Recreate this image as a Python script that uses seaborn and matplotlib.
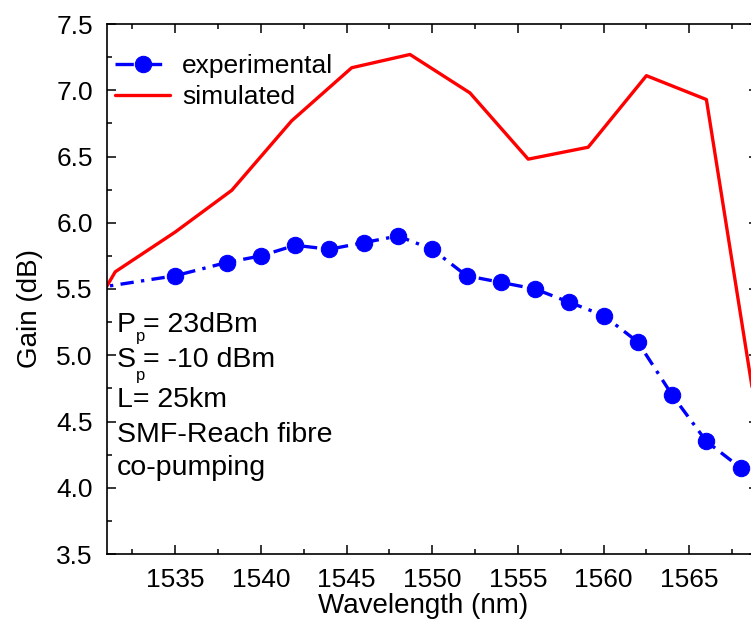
import seaborn as sns
import numpy as np
import matplotlib.pyplot as plt
from matplotlib.ticker import MultipleLocator

# experimental gain (dB) vs wavelength (nm)
exp_wl = [1530, 1535, 1538, 1540, 1542, 1544, 1546, 1548, 1550, 1552, 1554,
          1556, 1558, 1560, 1562, 1564, 1566, 1568]
exp_gain = [5.50, 5.60, 5.70, 5.75, 5.83, 5.80, 5.85, 5.90, 5.80, 5.60, 5.55,
            5.50, 5.40, 5.30, 5.10, 4.70, 4.35, 4.15]

# simulated gain
sim_wl = [1528.1, 1531.5, 1535.0, 1538.3, 1541.8, 1545.3, 1548.7, 1552.2,
          1555.6, 1559.1, 1562.5, 1566.0, 1569.4]
sim_gain = [4.88, 5.63, 5.93, 6.245, 6.77, 7.17, 7.27, 6.98, 6.48, 6.57,
            7.11, 6.93, 4.16]

# conditions box: main symbol, subscript, rest of the line
notes = [('P', 'p', '= 23dBm'), ('S', 'p', '= -10 dBm'), ('L= 25km', '', ''),
         ('SMF-Reach fibre', '', ''), ('co-pumping', '', '')]
note_y = [0.4194, 0.3534, 0.2774, 0.2119, 0.149]
sub_y = [0.401, 0.328]

sns.set_style('ticks')
plt.rcParams['font.family'] = ['Liberation Sans', 'DejaVu Sans']
plt.rcParams['text.color'] = 'black'
plt.rcParams['axes.labelcolor'] = 'black'

fig = plt.figure(figsize=(7.51, 6.27), dpi=100)
ax = fig.add_axes([106.7 / 751, 73 / 627, 651.1 / 751, 530 / 627])

sns.lineplot(x=exp_wl, y=exp_gain, ax=ax, color='#0000ff', lw=2.4,
             linestyle=(0, (4, 2.2, 1, 2.2)), marker='o', markersize=11.8,
             markeredgecolor='#0000ff', markerfacecolor='#0000ff',
             label='experimental', sort=False)
sns.lineplot(x=sim_wl, y=sim_gain, ax=ax, color='#ff0000', lw=2.4,
             label='simulated', sort=False)

ax.set_xlim(1531, 1569)
ax.set_ylim(3.5, 7.5)
ax.xaxis.set_major_locator(MultipleLocator(5))
ax.xaxis.set_minor_locator(MultipleLocator(2.5))
ax.yaxis.set_major_locator(MultipleLocator(0.5))
ax.yaxis.set_minor_locator(MultipleLocator(0.25))
ax.set_xticks([1535, 1540, 1545, 1550, 1555, 1560, 1565])
ax.yaxis.set_major_formatter(plt.FormatStrFormatter('%.1f'))
ax.tick_params(which='both', direction='in', top=True, right=True,
               width=1.1, color='black', labelsize=19, labelcolor='black')
ax.tick_params(which='major', length=6.5)
ax.tick_params(which='minor', length=3.6)
ax.tick_params(axis='y', pad=10)
ax.tick_params(axis='x', pad=10)
for s in ax.spines.values():
    s.set_visible(True)
    s.set_linewidth(1.2)
    s.set_color('black')

ax.set_xlabel('Wavelength (nm)', fontsize=20, color='black')
ax.set_ylabel('Gain (dB)', fontsize=20, color='black')
ax.xaxis.set_label_coords(0.4858, -0.074)
ax.yaxis.set_label_coords(-0.098, 0.464)

leg = ax.legend(loc='upper left', bbox_to_anchor=(0.0127, 0.943), frameon=False,
                fontsize=19, borderaxespad=0, borderpad=0, handlelength=2.1,
                handletextpad=0.45, labelspacing=0.25, labelcolor='black')
leg.get_lines()[0].set_linestyle((0, (5.5, 3)))

for (main, sub, rest), yy in zip(notes, note_y):
    ax.text(0.0158, yy, main, transform=ax.transAxes, fontsize=20.5,
            va='baseline', color='black')
    if rest:
        ax.text(0.0565, yy, rest, transform=ax.transAxes, fontsize=20.5,
                va='baseline', color='black')
for (main, sub, rest), yy in zip(notes[:2], sub_y):
    ax.text(0.0446, yy, sub, transform=ax.transAxes, fontsize=12,
            va='baseline', color='black')

fig.savefig('out.png', dpi=100)
